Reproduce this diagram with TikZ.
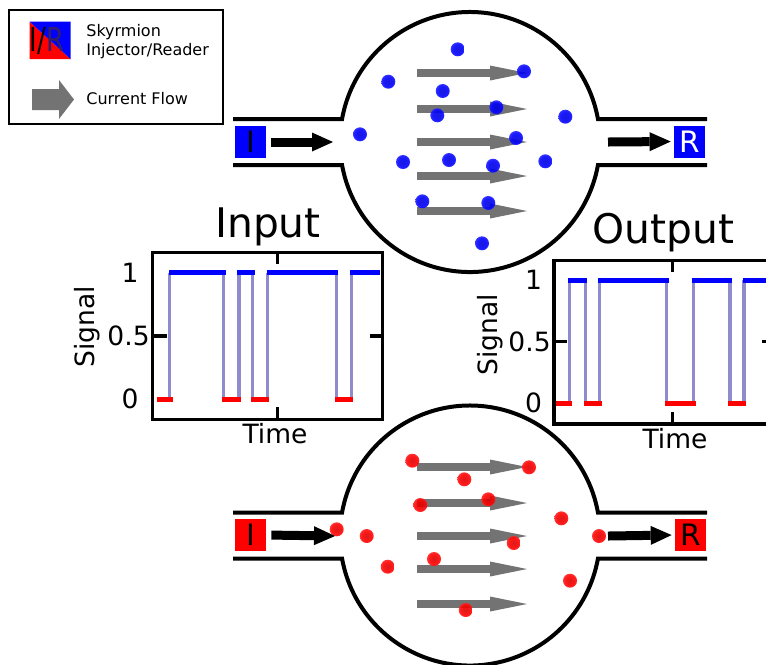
\documentclass[tikz,border=0pt]{standalone}
\usepackage{fontspec}
\usepackage{graphicx}
\setmainfont{DejaVu Sans}
\usetikzlibrary{arrows.meta}
\definecolor{sigv}{RGB}{143,139,205}
\definecolor{flow}{RGB}{115,115,115}
\definecolor{irR}{RGB}{50,30,110}
\pgfdeclareradialshading{skyB}{\pgfpointorigin}{color(0bp)=(blue!85!black); color(18bp)=(blue); color(34bp)=(blue!75); color(50bp)=(blue!15)}
\pgfdeclareradialshading{skyR}{\pgfpointorigin}{color(0bp)=(red!85!black); color(18bp)=(red); color(34bp)=(red!75); color(50bp)=(red!15)}
\tikzset{
  wall/.style={line width=0.08cm},
  feed/.style={line width=0.18cm,-{Triangle[length=0.42cm,width=0.38cm,line width=0pt]}},
  current/.style={line width=0.16cm,flow,-{Triangle[length=0.74cm,width=0.3cm,line width=0pt]}},
  skyb/.style={shading=skyB,opacity=0.9},
  skyr/.style={shading=skyR,opacity=0.9},
  inj/.style={minimum width=0.62cm,minimum height=0.64cm,inner sep=0pt,font=\fontsize{16.8}{20}\selectfont},
  lgd/.style={inner sep=0pt,anchor=base west,font=\fontsize{9.1}{11}\selectfont},
  ttl/.style={inner sep=0pt,anchor=base,font=\fontsize{23.2}{28}\selectfont},
  tk/.style={inner sep=0pt,font=\fontsize{15.1}{18}\selectfont},
  axbox/.style={line width=0.065cm},
  hi/.style={line width=0.1cm,blue},
  lo/.style={line width=0.1cm,red},
  flip/.style={line width=0.07cm,sigv},
}

\begin{document}
\begin{tikzpicture}[x=0.02cm,y=-0.02cm]
  \useasboundingbox (0,0) rectangle (766,664);
  \clip (0,0) rectangle (766,664);
  % legend
  \draw[line width=0.025cm] (9,10) rectangle (223,124);
  \fill[red] (29.5,21.5) -- (29.5,59) -- (70.5,59) -- cycle;
  \fill[blue] (29.5,21.5) -- (70.5,21.5) -- (70.5,59) -- cycle;
  \node[inner sep=0pt,anchor=base,font=\fontsize{18.8}{22}\selectfont] (lir) at (47,51.3)
    {\scalebox{0.78}[1]{I/\textcolor{irR}{R}}};
  \node[lgd] (lsky) at (86,36) {Skyrmion};
  \node[lgd] (linj) at (86,55) {Injector/Reader};
  \fill[flow] (32,89) -- (59,89) -- (59,80) -- (74,99.5) -- (59,119) -- (59,110) -- (32,110) -- cycle;
  \node[lgd] (lcur) at (86,104) {Current Flow};

  % top device (blue)
  \draw[wall] (233,119) -- (342.05,119) arc[start angle=190.19,end angle=349.81,radius=130] -- (707,119);
  \draw[wall] (233,165) -- (342.05,165) arc[start angle=169.81,end angle=10.19,radius=130] -- (707,165);
  \foreach \y in {73,109,142,176,211}
    \draw[current] (417,\y) -- (527,\y);
  \foreach \x/\y in {457.7/49.3,388.3/81.7,524/71.3,442.7/91,496.3/107.3,437.3/115.3,565.3/116.7,360/134.3,
                     516/138,403/162,449/160,493/165.7,545.3/161.3,422.3/201.3,488.3/203,482/243.3}
    \shade[skyb] (\x,\y) circle[radius=7];
  \node[inj,fill=blue] (inT) at (250.5,142) {I};
  \node[inj,fill=blue,text=white] (outT) at (689.5,141.5) {R};
  \coordinate (inTtip) at (333,142);
  \coordinate (outTtail) at (608,142);
  \draw[feed,shorten <=0.1cm] (inT.east) -- (inTtip);
  \draw[feed,shorten >=0.06cm] (outTtail) -- (outT.west);

  % bottom device (red)
  \draw[wall] (233,512.5) -- (342.05,512.5) arc[start angle=190.19,end angle=349.81,radius=130] -- (707,512.5);
  \draw[wall] (233,558.5) -- (342.05,558.5) arc[start angle=169.81,end angle=10.19,radius=130] -- (707,558.5);
  \foreach \y in {467,503,536,569,604}
    \draw[current] (417,\y) -- (527,\y);
  \foreach \x/\y in {412.3/460.7,529/467.3,464.3/479.3,420.3/505,488.3/499.3,561.3/518.3,336.7/529.3,
                     366.7/536,599/536,513.7/543,434/559,387.7/566.7,570/580.7,465.7/610}
    \shade[skyr] (\x,\y) circle[radius=7];
  \node[inj,fill=red] (inB) at (250.5,535) {I};
  \node[inj,fill=red] (outB) at (690.5,535) {R};
  \coordinate (inBtip) at (335,536);
  \coordinate (outBtail) at (608,536);
  \draw[feed,shorten <=0.1cm] (inB.east) -- (inBtip);
  \draw[feed,shorten >=0.06cm] (outBtail) -- (outB.west);

  % input plot
  \foreach \x in {169.3,223.3,239,252.3,267.7,336.7,351.7}
    \draw[flip] (\x,399.3) -- (\x,272.7);
  \foreach \a/\b in {157.3/172.7,222.3/240.7,251/269.3,335.3/353.3}
    \draw[lo] (\a,399.3) -- (\b,399.3);
  \foreach \a/\b in {169.3/225.7,237.3/255.3,266.7/338.3,350/380}
    \draw[hi] (\a,272.7) -- (\b,272.7);
  \draw[axbox] (152.7,252.3) rectangle (382.7,419.3);
  \draw[axbox] (277.3,252.3) -- (277.3,264) (277.3,419.3) -- (277.3,407)
               (152.7,336) -- (166.7,336) (382.7,336) -- (370,336);
  \node[ttl] (inTitle) at (268,237) {Input};
  \node[tk] (inOne) at (130,272.7) {1};
  \node[tk,anchor=east] (inHalf) at (150,336) {0.5};
  \node[tk] (inZero) at (130,399.3) {0};
  \node[tk,anchor=base] (inTime) at (275,443) {Time};
  \node[tk,rotate=90] (inSig) at (87.5,326.7) {Signal};

  % output plot
  \foreach \x in {569.3,585.7,599.3,666.7,693.3,730,744}
    \draw[flip] (\x,403.3) -- (\x,280);
  \foreach \a/\b in {556/571.7,584/601.7,665/696,728.3/746}
    \draw[lo] (\a,403.3) -- (\b,403.3);
  \foreach \a/\b in {568.3/587.3,598/669,691.7/731.7,742.7/780}
    \draw[hi] (\a,280) -- (\b,280);
  \draw[axbox] (554,260.7) rectangle (775,424);
  \draw[axbox] (672.3,260.7) -- (672.3,272.3) (672.3,424) -- (672.3,412)
               (554,341.7) -- (566.7,341.7) (775,341.7) -- (762,341.7);
  \node[ttl] (outTitle) at (663.3,243.3) {Output};
  \node[tk] (outOne) at (533.5,280) {1};
  \node[tk,anchor=east] (outHalf) at (551,341.7) {0.5};
  \node[tk] (outZero) at (533.5,403.3) {0};
  \node[tk,anchor=base] (outTime) at (675,448) {Time};
  \node[tk,rotate=90] (outSig) at (490,335) {Signal};
\end{tikzpicture}
\end{document}
